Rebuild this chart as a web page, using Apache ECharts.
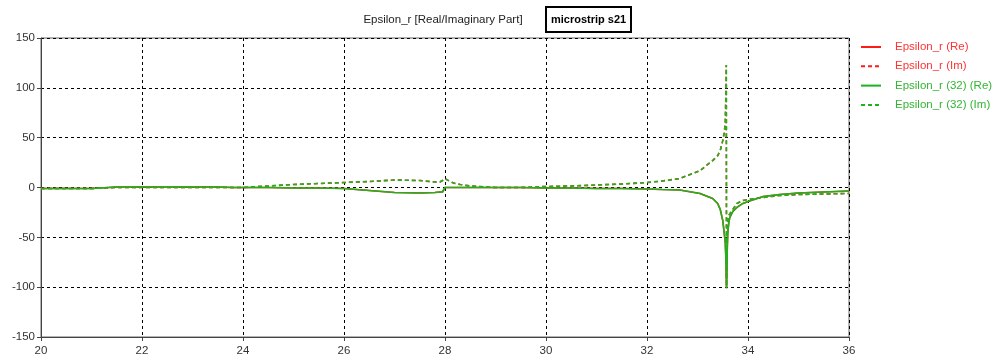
<!DOCTYPE html>
<html>
<head>
<meta charset="utf-8">
<script src="https://cdn.jsdelivr.net/npm/echarts@6/dist/echarts.min.js"></script>
<style>
  html, body { margin: 0; padding: 0; background: #fff; }
  #chart { width: 1002px; height: 362px; }
</style>
</head>
<body>
<div id="chart"></div>
<script>
// Frequency samples (axis runs 20..36)
const freq = [
  20, 20.5, 21, 21.5, 22, 22.5, 23, 23.5, 23.8, 24, 24.5, 25, 25.5, 26, 26.5, 27, 27.5, 27.8, 27.9, 27.95,
  28, 28.1, 28.2, 28.3, 28.5, 29, 29.5, 30, 30.5, 31, 31.5, 32, 32.3, 32.65, 33.05, 33.3, 33.4, 33.45, 33.5,
  33.53, 33.55, 33.565, 33.57, 33.575, 33.58, 33.59, 33.6, 33.62, 33.64, 33.7, 33.78, 33.9, 34, 34.3, 34.63,
  35, 35.5, 36
];

// Real part
const epsRe = [
  -1, -1, -1, 0.5, 0.5, 0.5, 0.5, 0.5, 0, 0, 0, -0.5, -0.5, -1, -3, -5, -5.5, -5, -4.5, -4.5,
  0, 0, 0, 0, 0, 0, 0, -0.5, -0.5, -1, -1, -1.5, -2, -2.5, -6, -11, -16, -22, -33,
  -46, -55, -75, -90, -101, -101, -60, -45, -35, -30, -24, -20, -16, -14, -9, -7,
  -5.5, -4.5, -3.5
];

// Imaginary part
const epsIm = [
  -1, -1, -1, 0, 0, 0, 0, 0, 0, 0, 1.5, 3, 4, 5, 6, 7.5, 7, 5.5, 5.5, 7,
  9, 6, 4, 3, 1.5, 0, 0, 1, 1.5, 2.5, 3.5, 5, 6.5, 9, 17, 27, 32, 37, 47,
  55, 65, 100, 123, -99, -60, -45, -35, -28, -26, -22, -16, -13, -12, -10, -8,
  -7, -6.5, -6
];

const xTicks = [20, 22, 24, 26, 28, 30, 32, 34, 36];
const yTicks = [-150, -100, -50, 0, 50, 100, 150];

const seriesNames = ['Epsilon_r (Re)', 'Epsilon_r (Im)', 'Epsilon_r (32) (Re)', 'Epsilon_r (32) (Im)'];
const seriesColors = ['#ff1a1a', '#ff1a1a', '#1db31d', '#1db31d'];
const legendTextColors = ['#ff3333', '#ff3333', '#33b533', '#33b533'];

const pairs = (ys) => freq.map((f, i) => [f, ys[i]]);
const seriesData = [pairs(epsRe), pairs(epsIm), pairs(epsRe), pairs(epsIm)];

const FONT = '"Liberation Sans", Arial, sans-serif';

const chart = echarts.init(document.getElementById('chart'), null, { renderer: 'canvas' });

chart.setOption({
  animation: false,
  backgroundColor: '#ffffff',
  title: [
    {
      text: 'Epsilon_r [Real/Imaginary Part]',
      left: 438, top: 9, textAlign: 'center',
      textStyle: { fontFamily: FONT, fontSize: 11.5, fontWeight: 'normal', color: '#222' }
    },
    {
      text: 'microstrip s21',
      left: 546, top: 7,
      borderColor: '#000', borderWidth: 2,
      padding: [7, 5, 7, 5],
      textStyle: { fontFamily: FONT, fontSize: 11, fontWeight: 'bold', color: '#000' }
    }
  ],
  legend: {
    orient: 'vertical',
    left: 860, top: 41, padding: 0,
    itemWidth: 20, itemHeight: 10, itemGap: 7.3,
    itemStyle: { opacity: 0 },
    data: seriesNames.map((n, i) => ({
      name: n,
      textStyle: { color: legendTextColors[i] }
    })),
    textStyle: { fontFamily: FONT, fontSize: 11.5, padding: [0, 0, 0, 9] }
  },
  grid: {
    left: 41, right: 153, top: 38, bottom: 25,
    show: true, borderColor: '#666', borderWidth: 1
  },
  xAxis: {
    type: 'value',
    min: 20, max: 36, interval: 2,
    axisLine: { show: true, onZero: false, lineStyle: { color: '#444' } },
    axisTick: { show: true, length: 4, lineStyle: { color: '#444' } },
    axisLabel: {
      fontFamily: FONT, fontSize: 11.5, color: '#333', margin: 8,
      formatter: (v) => xTicks.includes(v) ? String(v) : ''
    },
    splitLine: { show: true, lineStyle: { color: '#000', type: [3, 3], width: 1 } }
  },
  yAxis: {
    type: 'value',
    min: -150, max: 150, interval: 50,
    axisLine: { show: true, lineStyle: { color: '#444' } },
    axisTick: { show: true, length: 4, lineStyle: { color: '#444' } },
    axisLabel: {
      fontFamily: FONT, fontSize: 11.5, color: '#333', margin: 6,
      formatter: (v) => yTicks.includes(v) ? String(v) : ''
    },
    splitLine: { show: true, lineStyle: { color: '#000', type: [3, 3], width: 1 } }
  },
  series: seriesNames.map((n, i) => ({
    name: n,
    type: 'line',
    data: seriesData[i],
    showSymbol: false,
    symbol: 'none',
    smooth: false,
    color: seriesColors[i],
    lineStyle: {
      color: seriesColors[i],
      width: 1.6,
      type: (i % 2 === 1) ? [4, 3] : 'solid'
    },
    z: i + 2
  }))
});
</script>
</body>
</html>
